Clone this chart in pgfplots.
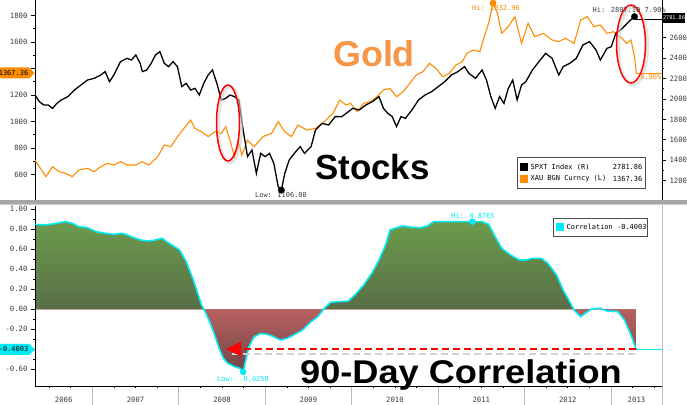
\documentclass[border=0pt]{standalone}
\usepackage{pgfplots}
\pgfplotsset{compat=1.18}
\usepackage{pgfplotstable}
\usetikzlibrary{arrows.meta,shapes.symbols}
\usepackage{fontspec}
\setmainfont{Liberation Sans}
\newfontfamily\mono{DejaVu Sans Mono}
\definecolor{goldline}{RGB}{255,140,0}
\definecolor{goldtext}{RGB}{247,150,70}
\definecolor{corrcyan}{RGB}{0,235,245}
\definecolor{gtop}{RGB}{108,155,76}
\definecolor{gbot}{RGB}{74,78,69}
\definecolor{rtop}{RGB}{220,110,110}
\definecolor{rmid}{RGB}{200,100,100}
\definecolor{rbot}{RGB}{110,72,72}
\definecolor{lbl}{RGB}{60,60,60}

\pgfplotstableread{
x y
2006.336 709
2006.386 659
2006.462 584
2006.539 659
2006.615 621
2006.691 609
2006.767 584
2006.843 634
2006.944 647
2007.020 621
2007.096 659
2007.172 684
2007.248 672
2007.325 697
2007.401 672
2007.502 672
2007.578 697
2007.654 672
2007.756 735
2007.832 823
2007.908 810
2007.984 886
2008.060 948
2008.136 1011
2008.187 948
2008.263 923
2008.339 886
2008.415 923
2008.491 911
2008.542 961
2008.592 860
2008.643 735
2008.694 835
2008.729 747
2008.795 860
2008.871 810
2008.973 886
2009.074 911
2009.150 999
2009.226 923
2009.302 886
2009.378 974
2009.480 936
2009.581 948
2009.683 999
2009.784 1062
2009.860 1162
2009.936 1125
2009.987 1137
2010.063 1074
2010.139 1137
2010.215 1150
2010.291 1187
2010.367 1238
2010.443 1250
2010.519 1187
2010.595 1225
2010.671 1288
2010.747 1351
2010.824 1376
2010.900 1439
2010.976 1401
2011.052 1338
2011.128 1364
2011.204 1426
2011.280 1452
2011.331 1514
2011.407 1540
2011.483 1527
2011.533 1640
2011.584 1741
2011.635 1893
2011.686 1816
2011.736 1665
2011.812 1716
2011.888 1791
2011.965 1590
2012.041 1741
2012.117 1640
2012.218 1665
2012.319 1615
2012.396 1603
2012.472 1628
2012.573 1590
2012.649 1766
2012.725 1791
2012.801 1716
2012.877 1728
2012.953 1665
2013.029 1678
2013.105 1640
2013.181 1590
2013.231 1615
2013.272 1489
2013.292 1367.36
}\golddata

\pgfplotstableread{
x y
2006.336 2039
2006.386 1974
2006.437 1941
2006.488 1941
2006.539 1908
2006.589 1957
2006.640 1990
2006.716 2023
2006.792 2088
2006.868 2137
2006.944 2186
2007.020 2202
2007.096 2235
2007.147 2268
2007.198 2170
2007.248 2235
2007.325 2366
2007.401 2398
2007.451 2382
2007.502 2431
2007.553 2349
2007.578 2268
2007.629 2284
2007.680 2349
2007.730 2431
2007.781 2464
2007.832 2349
2007.882 2317
2007.933 2366
2007.984 2317
2008.034 2121
2008.085 2153
2008.136 2088
2008.187 2104
2008.237 2039
2008.288 2153
2008.339 2235
2008.389 2284
2008.440 2153
2008.491 1990
2008.542 2006
2008.592 2039
2008.643 2023
2008.694 1990
2008.744 1696
2008.795 1435
2008.846 1500
2008.897 1271
2008.947 1467
2008.998 1435
2009.049 1467
2009.099 1369
2009.150 1140
2009.186 1106
2009.226 1271
2009.277 1402
2009.353 1484
2009.404 1533
2009.454 1467
2009.530 1533
2009.581 1696
2009.657 1761
2009.733 1745
2009.809 1827
2009.885 1827
2009.936 1859
2010.012 1908
2010.088 1892
2010.164 1941
2010.240 1974
2010.316 2023
2010.367 1908
2010.418 1859
2010.469 1827
2010.519 1729
2010.570 1827
2010.621 1810
2010.697 1892
2010.773 1990
2010.849 2039
2010.925 2072
2011.001 2121
2011.077 2170
2011.153 2235
2011.229 2268
2011.305 2317
2011.356 2251
2011.432 2202
2011.508 2284
2011.559 2186
2011.610 2023
2011.660 1908
2011.711 2023
2011.762 1957
2011.812 2104
2011.863 2186
2011.914 1990
2011.965 2137
2012.015 2170
2012.091 2284
2012.167 2366
2012.243 2447
2012.319 2398
2012.396 2235
2012.446 2317
2012.522 2349
2012.598 2398
2012.675 2529
2012.751 2562
2012.827 2480
2012.877 2382
2012.953 2496
2013.004 2513
2013.055 2643
2013.131 2692
2013.207 2758
2013.272 2807.1
2013.292 2781.86
}\spxdata

\pgfplotstableread{
x y
2006.336 0.850
2006.437 0.843
2006.539 0.853
2006.691 0.876
2006.767 0.860
2006.843 0.826
2006.944 0.816
2007.046 0.776
2007.147 0.760
2007.248 0.750
2007.350 0.760
2007.451 0.726
2007.553 0.693
2007.654 0.683
2007.730 0.693
2007.806 0.710
2007.857 0.676
2007.933 0.636
2008.009 0.593
2008.085 0.476
2008.161 0.310
2008.212 0.176
2008.263 0.043
2008.313 -0.040
2008.364 -0.140
2008.415 -0.257
2008.466 -0.390
2008.516 -0.490
2008.567 -0.540
2008.643 -0.573
2008.709 -0.590
2008.744 -0.6258
2008.770 -0.524
2008.810 -0.374
2008.871 -0.274
2008.947 -0.240
2009.023 -0.250
2009.099 -0.274
2009.175 -0.307
2009.252 -0.290
2009.328 -0.257
2009.429 -0.207
2009.530 -0.124
2009.606 -0.074
2009.683 0.010
2009.759 0.070
2009.860 0.076
2009.961 0.083
2010.037 0.143
2010.139 0.243
2010.240 0.370
2010.316 0.493
2010.392 0.643
2010.443 0.793
2010.519 0.816
2010.595 0.833
2010.697 0.820
2010.798 0.816
2010.874 0.833
2010.950 0.876
2011.102 0.876
2011.255 0.876
2011.397 0.8765
2011.508 0.876
2011.584 0.850
2011.660 0.726
2011.736 0.610
2011.838 0.543
2011.939 0.493
2012.015 0.493
2012.091 0.510
2012.193 0.510
2012.269 0.460
2012.370 0.343
2012.446 0.193
2012.522 0.076
2012.573 -0.007
2012.649 -0.074
2012.700 -0.040
2012.776 0.003
2012.877 0.010
2012.953 -0.017
2013.080 -0.023
2013.156 -0.107
2013.231 -0.257
2013.292 -0.4003
}\corrdata

\pgfplotsset{
  base/.style={
    scale only axis, width=627bp,
    xmin=2006.336, xmax=2013.59,
    anchor=south west,
    tick label style={font=\mono\fontsize{7.3}{8}\selectfont, text=lbl},
    /pgf/number format/assume math mode=true,
    tick align=outside,
    major tick length=4bp, minor tick length=2bp,
    every tick/.style={black, line width=0.6pt},
    axis line style={-, black, line width=0.6pt},
  },
  fillax/.style={
    scale only axis, width=627bp,
    xmin=2006.336, xmax=2013.59,
    anchor=south west, hide axis,
  }
}

\begin{document}
\begin{tikzpicture}
\useasboundingbox (0,0) rectangle (687bp,405bp);
\fill[white] (0,0) rectangle (687bp,405bp);
% separator band
\fill[gray!70] (0,199.5bp) rectangle (687bp,205bp);
\draw[gray!40, line width=0.6pt] (0,201bp) -- (687bp,201bp);
% right border of lower panel
\draw[gray!55, line width=0.8pt] (662bp,0) -- (662bp,199.5bp);
% year separators in the date strip
\foreach \xx in {92.4,178.8,265.3,351.7,438.1,524.5,611.0}
  \draw[gray!55, line width=0.8pt] (\xx bp,0) -- (\xx bp,19bp);

% ---------- top panel, gold (left axis)
\begin{axis}[base, at={(35bp,205bp)}, height=200bp,
  ymin=408, ymax=1917,
  axis x line=none, axis y line*=left,
  ytick={600,800,1000,1200,1400,1600,1800}, minor y tick num=1,
  yticklabels={600,800,1000,1200,{},1600,1800}]
\addplot[goldline, line width=1.1pt] table {\golddata};
\addplot[goldline, line width=0.4pt] coordinates {(2013.292,1367.36) (2013.59,1367.36)};
\addplot[only marks, mark=*, mark size=3.2bp, goldline] coordinates {(2011.635,1893)};
\end{axis}

% ---------- top panel, stocks (right axis)
\begin{axis}[base, at={(35bp,205bp)}, height=200bp,
  ymin=1010, ymax=2970,
  axis x line=none, axis y line*=right,
  ytick={1200,1400,1600,1800,2000,2200,2400,2600}, minor y tick num=1,
  yticklabel style={/pgf/number format/.cd, fixed, 1000 sep={}}]
\addplot[black, line width=1.3pt] table {\spxdata};
\addplot[black, line width=0.4pt] coordinates {(2013.292,2781.86) (2013.59,2781.86)};
\addplot[only marks, mark=*, mark size=3.2bp, black] coordinates {(2009.186,1106) (2013.272,2807.1)};
\end{axis}

% ---------- correlation fills: positive half and negative half, each clipped by its own box
\begin{axis}[fillax, at={(35bp,95.7bp)}, height=103.3bp, ymin=0, ymax=1.033]
\addplot[top color=gtop, bottom color=gbot, draw=none] table {\corrdata} \closedcycle;
\end{axis}
\begin{axis}[fillax, at={(35bp,19bp)}, height=76.7bp, ymin=-0.767, ymax=0]
\addplot[top color=rtop, bottom color=rbot, middle color=rmid, draw=none] table {\corrdata} \closedcycle;
\end{axis}

% ---------- bottom panel, correlation
\begin{axis}[base, at={(35bp,19bp)}, height=180bp,
  ymin=-0.767, ymax=1.033,
  axis x line*=bottom, axis y line*=left,
  ytick={-0.6,-0.4,-0.2,0,0.2,0.4,0.6,0.8,1.0}, minor y tick num=1,
  yticklabels={-0.60,{},-0.20,0.00,0.20,0.40,0.60,0.80,1.00},
  xtick={2006.668,2007.5,2008.5,2009.5,2010.5,2011.5,2012.5,2013.295},
  xticklabels={2006,2007,2008,2009,2010,2011,2012,2013},
  x tick label style={yshift=-4bp},
  major x tick style={draw=none},
  minor xtick={2006.5,2006.75,2007.25,2007.5,2007.75,2008.25,2008.5,2008.75,2009.25,2009.5,2009.75,2010.25,2010.5,2010.75,2011.25,2011.5,2011.75,2012.25,2012.5,2012.75,2013.25,2013.5},
  ]
\addplot[corrcyan, line width=1.6pt] table {\corrdata};
\addplot[corrcyan, line width=0.5pt] coordinates {(2013.292,-0.4003) (2013.59,-0.4003)};
\addplot[only marks, mark=*, mark size=3bp, corrcyan] coordinates {(2011.397,0.8765) (2008.744,-0.6258)};
\end{axis}

% ---------- annotations
\tikzset{small/.style={font=\mono\fontsize{7}{8}\selectfont, inner sep=0.5bp}}
% ellipses
\draw[gray!35, line width=3pt, opacity=0.6] (230bp,280bp) ellipse [x radius=11.5bp, y radius=38bp];
\draw[red, line width=1.5pt] (228bp,282bp) ellipse [x radius=11.5bp, y radius=38bp];
\draw[gray!35, line width=3pt, opacity=0.6] (633bp,359bp) ellipse [x radius=14.5bp, y radius=39bp];
\draw[red, line width=1.5pt] (631bp,361bp) ellipse [x radius=14.5bp, y radius=39bp];

% big labels
\node[anchor=base west, inner sep=0, font=\fontsize{36}{36}\selectfont\bfseries, text=goldtext] at (333bp,338bp) {Gold};
\node[anchor=base west, inner sep=0, font=\fontsize{35}{35}\selectfont\bfseries] at (315bp,225bp) {Stocks};

% arrow shadow and arrow
\draw[gray!35, line width=3pt, dash pattern=on 7bp off 4bp] (232bp,51bp) -- (638bp,51bp);
\draw[red, line width=2.8pt, dash pattern=on 7bp off 4bp, -{Triangle[length=15bp,width=14bp]}] (636bp,56bp) -- (226bp,56bp);
\node[anchor=base west, inner sep=0, font=\fontsize{33}{33}\selectfont\bfseries, xscale=1.1] at (300bp,22bp) {90-Day Correlation};

% small labels
\node[small, text=lbl] at (281bp,210bp) {Low: 1106.00};
\node[small, text=goldline] at (496bp,397bp) {Hi: 1832.96};
\node[small, text=lbl, anchor=west] at (592bp,395bp) {Hi: 2807.10};
\node[small, text=lbl, anchor=west] at (644bp,395bp) {7.90\%};
\node[small, text=goldline, anchor=east] at (662bp,328bp) {-9.96\%};
\node[small, text=corrcyan] at (473bp,189bp) {Hi: 0.8765};
\node[small, text=corrcyan] at (243bp,26bp) {Low: -0.6258};

% value tags
\node[signal, signal to=east, fill=goldline, text=black, font=\mono\fontsize{7}{8}\selectfont, inner sep=1bp, minimum height=11bp, anchor=east] at (35bp,332bp) {1367.36};
\node[signal, signal to=east, fill=corrcyan, text=black, font=\mono\fontsize{7}{8}\selectfont, inner sep=1bp, minimum height=11bp, anchor=east] at (35bp,55.7bp) {-0.4003};
\node[rectangle, fill=black, text=white, font=\mono\fontsize{5.2}{6}\selectfont, inner xsep=0.4bp, inner ysep=1.5bp, minimum height=10bp, anchor=west] at (662.5bp,387bp) {2781.86};

% top legend
\draw[fill=white, draw=black!70, line width=0.6pt] (517bp,217bp) rectangle (645bp,248bp);
\fill[black] (520bp,234bp) rectangle (528bp,242bp);
\node[small, anchor=west] at (530bp,238bp) {SPXT Index (R)};
\node[small, anchor=east] at (643bp,238bp) {2781.86};
\fill[goldline] (520bp,222bp) rectangle (528bp,230bp);
\node[small, anchor=west] at (530bp,226bp) {XAU BGN Curncy (L)};
\node[small, anchor=east] at (643bp,226bp) {1367.36};

% bottom legend
\draw[fill=white, draw=black!70, line width=0.6pt] (553bp,169bp) rectangle (647bp,187bp);
\fill[corrcyan] (556bp,174bp) rectangle (564bp,182bp);
\node[small, anchor=west] at (566bp,178bp) {Correlation -0.4003};
\end{tikzpicture}
\end{document}
